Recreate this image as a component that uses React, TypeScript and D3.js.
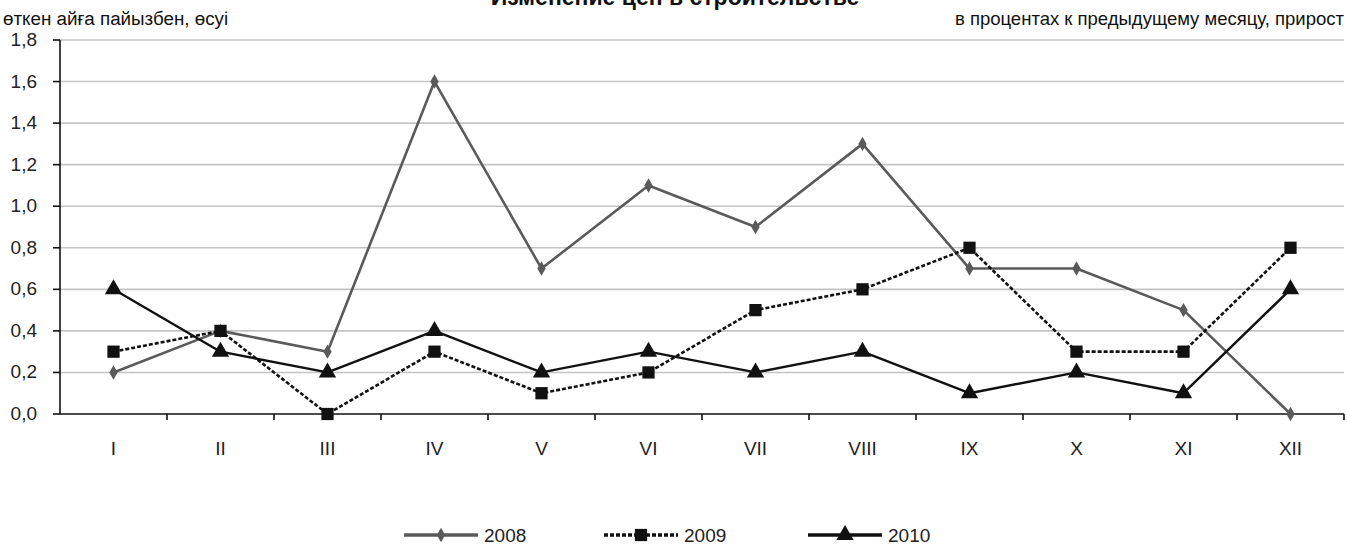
import React from 'react';
import * as d3 from 'd3';

const months = ['I', 'II', 'III', 'IV', 'V', 'VI', 'VII', 'VIII', 'IX', 'X', 'XI', 'XII'];
const years = ['2008', '2009', '2010'];
const v2008 = [0.2, 0.4, 0.3, 1.6, 0.7, 1.1, 0.9, 1.3, 0.7, 0.7, 0.5, 0.0];
const v2009 = [0.3, 0.4, 0.0, 0.3, 0.1, 0.2, 0.5, 0.6, 0.8, 0.3, 0.3, 0.8];
const v2010 = [0.6, 0.3, 0.2, 0.4, 0.2, 0.3, 0.2, 0.3, 0.1, 0.2, 0.1, 0.6];
const yTicks = [0, 0.2, 0.4, 0.6, 0.8, 1.0, 1.2, 1.4, 1.6, 1.8];

const W = 1347;
const H = 546;
const font = 'Liberation Sans, Arial, sans-serif';

const styles = [
  { color: '#5a5a5a', width: 2.6, dash: null, marker: d3.symbolDiamond, size: 60 },
  { color: '#111', width: 2.6, dash: '4,2', marker: d3.symbolSquare, size: 150 },
  { color: '#111', width: 2.4, dash: null, marker: d3.symbolTriangle, size: 130 },
];

export default function App() {
  const x = d3.scaleBand().domain(months).range([60, 1344]);
  const y = d3.scaleLinear().domain([0, 1.8]).range([414, 40]);
  const series = [v2008, v2009, v2010];
  const fmt = (v: number) => v.toFixed(1).replace('.', ',');
  const cx = (i: number) => (x(months[i]) as number) + x.bandwidth() / 2;
  const line = d3
    .line<number>()
    .x((d, i) => cx(i))
    .y(d => y(d));

  const legendX = [404, 604, 808];

  return (
    <div style={{ position: 'absolute', left: 0, top: 0 }}>
      <svg width={W} height={H} style={{ display: 'block', background: '#fff' }}>
        <text x={675} y={5} textAnchor="middle" fontFamily={font} fontWeight="bold" fontSize={23} fill="#111">
          Изменение цен в строительстве
        </text>
        <text x={3} y={25} fontFamily={font} fontSize={18.8} fill="#111">
          өткен айға пайызбен, өсуі
        </text>
        <text x={1344} y={25} textAnchor="end" fontFamily={font} fontSize={18.5} fill="#111">
          в процентах к предыдущему месяцу, прирост
        </text>

        {yTicks.map(t => (
          <g key={t}>
            {t > 0 && <line x1={60} x2={1344} y1={y(t)} y2={y(t)} stroke="#c4c4c4" strokeWidth={1.6} />}
            <line x1={53} x2={60} y1={y(t)} y2={y(t)} stroke="#111" strokeWidth={1.6} />
            <text x={37} y={y(t) + 6} textAnchor="end" fontFamily={font} fontSize={19} fill="#222">
              {fmt(t)}
            </text>
          </g>
        ))}

        <line x1={60} x2={60} y1={40} y2={414} stroke="#111" strokeWidth={1.6} />
        <line x1={60} x2={1344} y1={414} y2={414} stroke="#111" strokeWidth={1.6} />
        {months.map((m, i) => {
          const x0 = x(m) as number;
          return (
            <g key={m}>
              <line x1={x0 + x.bandwidth()} x2={x0 + x.bandwidth()} y1={414} y2={420} stroke="#111" strokeWidth={1.6} />
              <text x={cx(i)} y={455} textAnchor="middle" fontFamily={font} fontSize={19} fill="#222">
                {m}
              </text>
            </g>
          );
        })}

        {series.map((vals, si) => {
          const st = styles[si];
          const sym = d3.symbol().type(st.marker).size(st.size)();
          return (
            <g key={years[si]}>
              <path
                d={line(vals) || ''}
                fill="none"
                stroke={st.color}
                strokeWidth={st.width}
                strokeDasharray={st.dash || undefined}
                strokeLinejoin="round"
              />
              {vals.map((v, i) => (
                <path key={i} d={sym || ''} transform={`translate(${cx(i)},${y(v)})`} fill={st.color} />
              ))}
            </g>
          );
        })}

        {years.map((yr, si) => {
          const st = styles[si];
          const sym = d3.symbol().type(st.marker).size(st.size)();
          const lx = legendX[si];
          return (
            <g key={yr}>
              <line
                x1={lx}
                x2={lx + 74}
                y1={535}
                y2={535}
                stroke={st.color}
                strokeWidth={st.width + 1}
                strokeDasharray={st.dash || undefined}
              />
              <path d={sym || ''} transform={`translate(${lx + 37},535)`} fill={st.color} />
              <text x={lx + 80} y={542} fontFamily={font} fontSize={19} fill="#222">
                {yr}
              </text>
            </g>
          );
        })}
      </svg>
    </div>
  );
}
